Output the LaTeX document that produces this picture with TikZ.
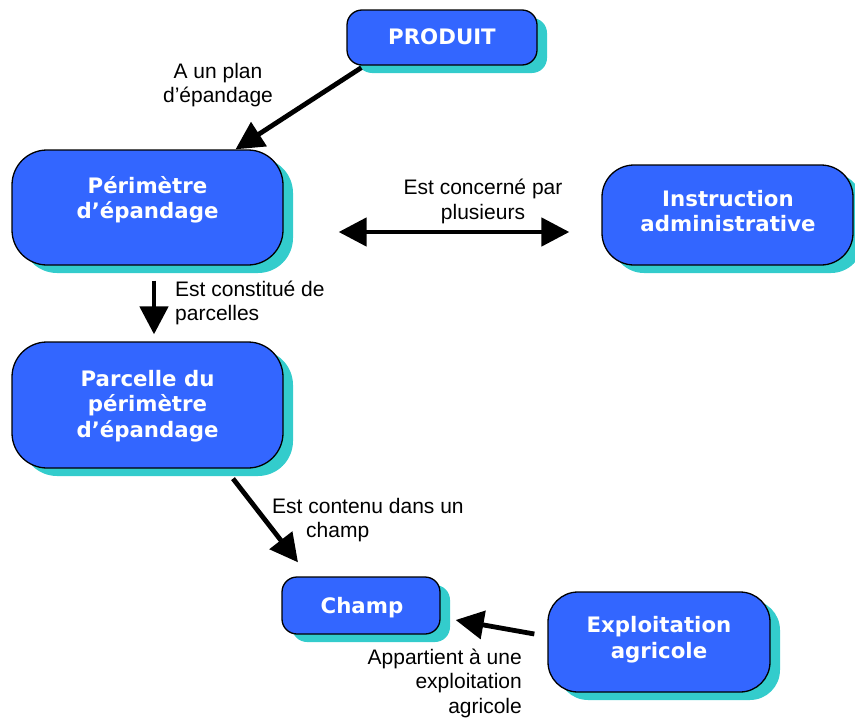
\documentclass[tikz,border=0pt]{standalone}
\usepackage{fontspec}
\setmainfont{Liberation Sans}
\newfontfamily\boxfont{DejaVu Sans}
\usetikzlibrary{arrows.meta,calc,shadows}
\definecolor{boxblue}{RGB}{51,102,255}
\definecolor{shadowc}{RGB}{51,204,204}
\begin{document}
\begin{tikzpicture}[x=1pt,y=-1pt,
  box/.style={draw=black, line width=1.3pt, fill=boxblue, inner sep=0pt,
    drop shadow={shadow xshift=10pt, shadow yshift=-8pt, fill=shadowc, opacity=1}},
  boxtext/.style={text=white, align=center, inner sep=0pt,
    font=\boxfont\bfseries\fontsize{21.3}{25.5}\selectfont},
  lbl/.style={inner sep=0pt, font=\fontsize{21}{24.5}\selectfont},
  conn/.style={line width=4.8pt, -{Triangle[length=28pt,width=28pt]}},
  dconn/.style={line width=4.8pt, {Triangle[length=28pt,width=28pt]}-{Triangle[length=28pt,width=28pt]}}
]
\useasboundingbox (0,0) rectangle (855,720);
\clip (0,0) rectangle (855,720);

% boxes
\node[box, rounded corners=15pt, minimum width=190pt, minimum height=55pt] (prod) at (442,37.5) {};
\node[box, rounded corners=35pt, minimum width=271pt, minimum height=115pt] (perim) at (147.5,207.5) {};
\node[box, rounded corners=32pt, minimum width=251pt, minimum height=100pt] (instr) at (727.5,215) {};
\node[box, rounded corners=35pt, minimum width=271pt, minimum height=126pt] (parc) at (147.5,405) {};
\node[box, rounded corners=15pt, minimum width=158pt, minimum height=57pt] (champ) at (361,605.5) {};
\node[box, rounded corners=30pt, minimum width=222pt, minimum height=100pt] (expl) at (659,642) {};

% box texts
\node[boxtext] (prodT) at (442,37) {PRODUIT};
\node[boxtext] (perimT) at (147.5,200) {Périmètre\\d’épandage};
\node[boxtext] (instrT) at (728,211) {Instruction\\administrative};
\node[boxtext] (parcT) at (147.5,406) {Parcelle du\\périmètre\\d’épandage};
\node[boxtext] (champT) at (362,607.5) {Champ};
\node[boxtext] (explT) at (659,639.5) {Exploitation\\agricole};

% connectors
\draw[conn] ($(prod.south west)+(15,2)$) -- ($(perim.north)+(88,0)$);
\draw[dconn] ($(perim.east)+(55,24.5)$) -- ($(instr.west)+(-32,17)$);
\draw[conn] ($(perim.south)+(6.5,15)$) -- ($(parc.north)+(6.5,-7)$);
\draw[conn] ($(parc.south)+(85.5,10)$) -- ($(champ.north)+(-63,-14)$);
\draw[conn] ($(expl.west)+(-13,-8)$) -- ($(champ.east)+(15,14.5)$);

% labels
\node[lbl, align=center] (l1) at (218,85) {A un plan\\d’épandage};
\node[lbl, align=center] (l2) at (483,201.5) {Est concerné par\\plusieurs};
\node[lbl, align=left, anchor=west] (l3) at (175,303) {Est constitué de\\parcelles};
\node[lbl, align=left, anchor=west] (l4) at (272,520) {Est contenu dans un\\\hspace*{34pt}champ};
\node[lbl, align=right, anchor=east] (l5) at (522,683) {Appartient à une\\exploitation\\agricole};
\end{tikzpicture}
\end{document}
